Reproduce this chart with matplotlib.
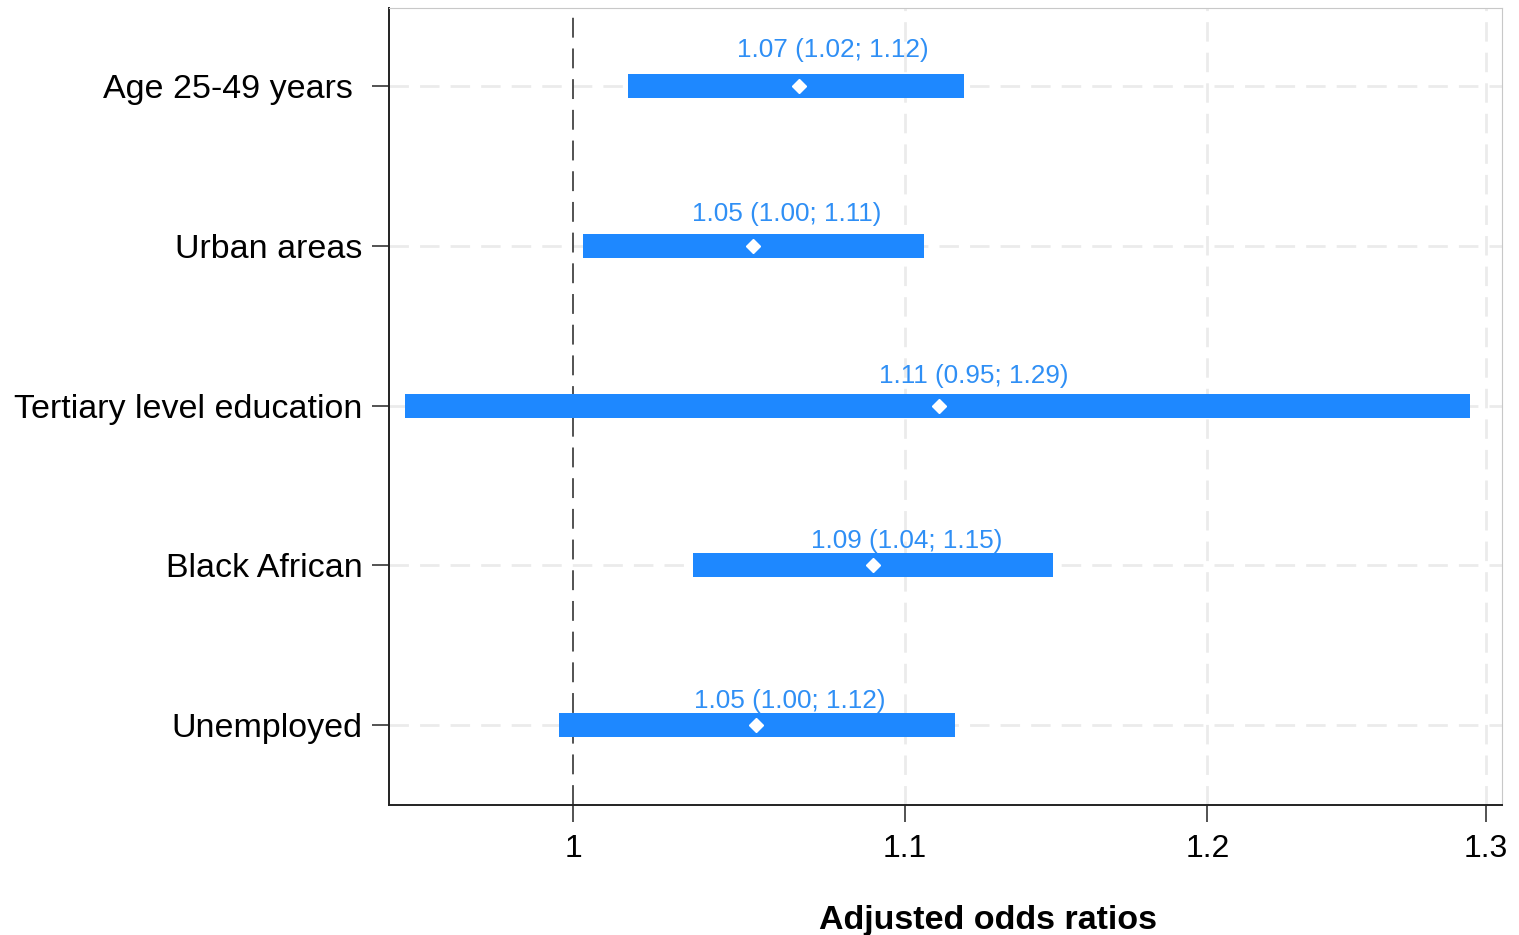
import matplotlib.pyplot as plt
from matplotlib.ticker import FixedLocator, NullLocator

# data
kategori = ["Age 25-49 years ", "Urban areas", "Tertiary level education",
            "Black African", "Unemployed"]
aor = [1.067, 1.053, 1.111, 1.090, 1.054]
ci_bawah = [1.016, 1.003, 0.953, 1.035, 0.996]
ci_atas = [1.119, 1.106, 1.294, 1.148, 1.116]
label_teks = ["1.07 (1.02; 1.12)", "1.05 (1.00; 1.11)", "1.11 (0.95; 1.29)",
              "1.09 (1.04; 1.15)", "1.05 (1.00; 1.12)"]
xticks = [1, 1.1, 1.2, 1.3]
xtick_labels = ["1", "1.1", "1.2", "1.3"]

biru = "#1E88FF"
plt.rcParams['font.family'] = ['Liberation Sans', 'DejaVu Sans']

fig = plt.figure(figsize=(15.19, 9.35), dpi=100)
ax = fig.add_axes([0.2561, 0.139, 0.7327, 0.8524])

posisi = list(range(1, len(kategori) + 1))

# grid
for p in posisi:
    ax.axhline(p, color="#EBEBEB", lw=2, ls=(0, (7, 4)), zorder=0)
for t in xticks[1:]:
    ax.axvline(t, color="#EBEBEB", lw=2, ls=(0, (7, 4)), zorder=0)
ax.axvline(1, color="#444444", lw=1.3, ls=(0, (11, 6)), zorder=1)

lebar = [h - l for l, h in zip(ci_bawah, ci_atas)]
ax.barh(posisi, lebar, left=ci_bawah, height=0.15, color=biru, zorder=2)
ax.plot(aor, posisi, ls="none", marker="D", ms=7, color="white",
        markeredgecolor="white", zorder=3)

# posisi label (style)
dy = [26, 23, 21.5, 17.5, 17.5]
for x, y, t, d in zip(aor, posisi, label_teks, dy):
    ax.annotate(t, (x, y), xytext=(24.5, d), textcoords="offset points",
                ha="center", va="center", fontsize=18.8, color="#2F8FF5", zorder=4)

ax.set_xscale("log")
ax.set_xlim(0.9485, 1.306)
ax.set_ylim(5.5, 0.51)
ax.xaxis.set_major_locator(FixedLocator(xticks))
ax.xaxis.set_minor_locator(NullLocator())
ax.set_xticklabels(xtick_labels)
ax.set_yticks(posisi)
ax.set_yticklabels(kategori)

ax.tick_params(axis="x", length=12, width=1.3, color="#444444", labelsize=23, pad=9)
ax.tick_params(axis="y", length=12, width=1.3, color="#444444", labelsize=24.5, pad=7)

ax.spines["left"].set_color("#222222")
ax.spines["bottom"].set_color("#222222")
ax.spines["left"].set_linewidth(1.4)
ax.spines["bottom"].set_linewidth(1.4)
ax.spines["top"].set_color("#C8C8C8")
ax.spines["right"].set_color("#C8C8C8")

ax.set_xlabel("Adjusted odds ratios", fontsize=24.5, fontweight="bold")
ax.xaxis.set_label_coords(0.538, -0.126)

fig.savefig("out.png", dpi=100)
